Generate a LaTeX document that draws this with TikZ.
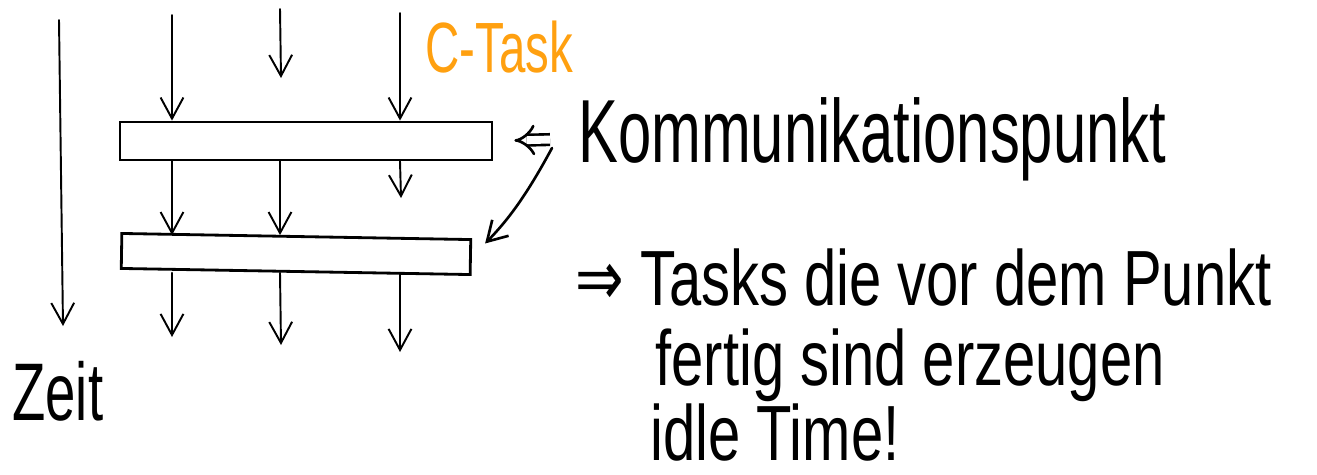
\documentclass[tikz,border=0pt]{standalone}
\usepackage{fontspec}
\setmainfont{Liberation Sans}
\newfontfamily\arrowsym{DejaVu Sans}
\usetikzlibrary{arrows.meta,positioning}

\definecolor{penorange}{RGB}{255,160,16}
\newcommand{\tallink}[1]{\scalebox{1}[1.5]{#1}}
\newcommand{\noteink}[1]{\scalebox{1}[1.35]{#1}}

\begin{document}
\begin{tikzpicture}[
  x=0.02cm, y=-0.02cm,
  task/.style={line width=1.1pt, line cap=round,
    -{Straight Barb[length=12pt,width=13pt]}},
  barrier/.style={draw, line width=1.6pt, inner sep=0pt},
  pointer/.style={line width=1.5pt, line cap=round,
    -{Straight Barb[length=11pt,width=13pt]}},
  scribble/.style={inner sep=0pt, anchor=base west,
    font=\fontsize{34}{40}\selectfont}
]
  \useasboundingbox (0,0) rectangle (1317,474);

  % === Communication points ===
  \node[barrier, minimum width=7.44cm, minimum height=0.76cm]
    (bar1) at (306,141) {};
  \node[barrier, minimum width=6.98cm, minimum height=0.7cm, rotate=-1]
    (bar2) at (296,254) {};

  % Lanes and loose arrow ends
  \coordinate (l1) at (172,15);
  \coordinate (l2) at (280,9);
  \coordinate (l3) at (400,13);
  \coordinate (l2top) at (281,78);
  \coordinate (l3mid) at (401,198);
  \coordinate (b1) at (172,337);
  \coordinate (b2) at (281,345);
  \coordinate (b3) at (400,352);

  % Tasks before the first point
  \draw[task] (l1) -- (l1 |- bar1.north);
  \draw[task] (l2) -- (l2top);
  \draw[task] (l3) -- (l3 |- bar1.north);

  % Tasks between the points
  \draw[task] (l1 |- bar1.south) -- (l1 |- bar2.north);
  \draw[task] (l2 |- bar1.south) -- (l2 |- bar2.north);
  \draw[task] (l3 |- bar1.south) -- (l3mid);

  % Tasks after the second point
  \draw[task] (l1 |- bar2.south) -- (b1);
  \draw[task] (l2 |- bar2.south) -- (b2);
  \draw[task] (l3 |- bar2.south) -- (b3);

  % === Time axis ===
  \coordinate (t0) at (59,20);
  \coordinate (t1) at (63,326);
  \draw[task] (t0) -- (t1);
  \node[scribble, font=\fontsize{31}{36}\selectfont] (zeit) at (12,420)
    {\tallink{Zeit}};

  % === Labels ===
  \node[scribble, text=penorange, font=\fontsize{27}{32}\selectfont]
    (ctask) at (425,72) {\tallink{C-Task}};
  \node[scribble] (kp) at (578,162) {\tallink{Kommunikationspunkt}};

  \draw[double, double distance=4.5pt, line width=1.5pt, -{Implies},
    shorten <=0.56cm, shorten >=0.42cm] (kp.west) -- (bar1.east);
  \coordinate (kpfoot) at (552,148);
  \draw[pointer, shorten >=0.38cm] (kpfoot) to[bend left=8] (bar2.east);

  % Conclusion
  \node[scribble, font=\fontsize{33}{40}\selectfont] (line1) at (575,305)
    {\noteink{{\arrowsym ⇒} Tasks die vor dem Punkt}};
  \node[scribble, font=\fontsize{33}{40}\selectfont] (line2) at (655,385)
    {\noteink{fertig sind erzeugen}};
  \node[scribble, font=\fontsize{33}{40}\selectfont] (line3) at (650,460)
    {\noteink{idle Time!}};
\end{tikzpicture}
\end{document}
